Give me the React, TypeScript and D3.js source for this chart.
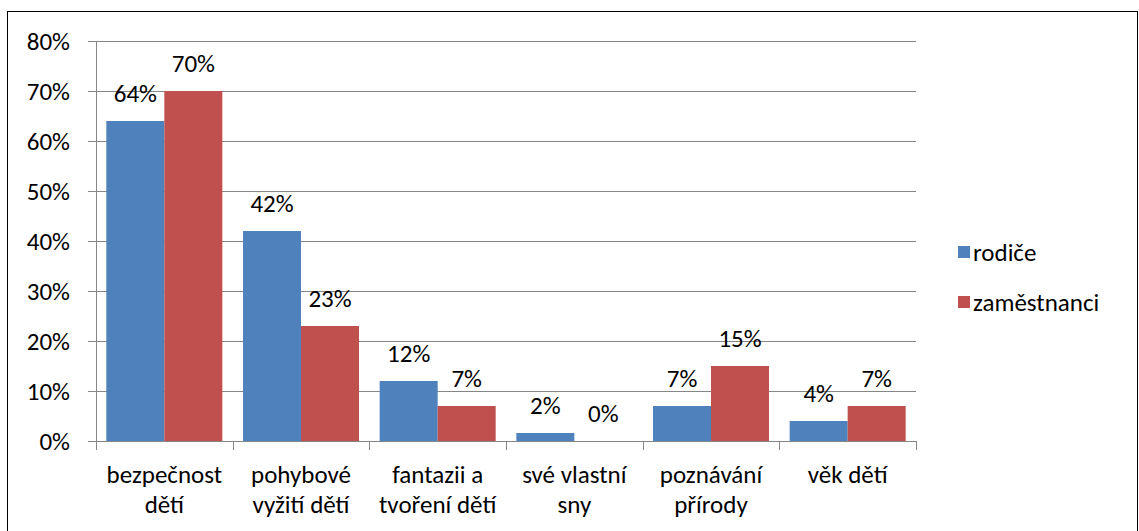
import React, { useEffect, useRef } from 'react';
import * as d3 from 'd3';

// Data
const categories = [
  ['bezpečnost', 'dětí'],
  ['pohybové', 'vyžití dětí'],
  ['fantazii a', 'tvoření dětí'],
  ['své vlastní', 'sny'],
  ['poznávání', 'přírody'],
  ['věk dětí'],
];
const seriesNames = ['rodiče', 'zaměstnanci'];
const rodice = [64, 42, 12, 1.6, 7, 4];
const zamestnanci = [70, 23, 7, 0, 15, 7];
const yTicks = [0, 10, 20, 30, 40, 50, 60, 70, 80];
const colors = ['#4F81BD', '#C0504D'];

const App = () => {
  const ref = useRef<SVGSVGElement>(null);

  useEffect(() => {
    const svg = d3.select(ref.current);
    svg.selectAll('*').remove();
    const font = 'Carlito, Calibri, Lato, sans-serif';
    const fs = 25;

    // outer frame
    svg
      .append('rect')
      .attr('x', 7.5)
      .attr('y', 11.5)
      .attr('width', 1130)
      .attr('height', 530)
      .attr('fill', 'white')
      .attr('stroke', 'black')
      .attr('stroke-width', 1);

    const left = 96;
    const right = 916;
    const top = 41;
    const bottom = 441;

    const x = d3
      .scaleBand<number>()
      .domain(d3.range(categories.length))
      .range([left, right]);
    const inner = d3
      .scaleBand<number>()
      .domain([0, 1])
      .range([0, x.bandwidth()])
      .paddingOuter(0.178);
    const y = d3.scaleLinear().domain([0, 80]).range([bottom, top]);

    // gridlines
    svg
      .append('g')
      .selectAll('line')
      .data(yTicks)
      .join('line')
      .attr('x1', left - 8)
      .attr('x2', right)
      .attr('y1', (d) => Math.round(y(d)) + 0.5)
      .attr('y2', (d) => Math.round(y(d)) + 0.5)
      .attr('stroke', '#868686')
      .attr('stroke-width', 1);

    // y labels
    svg
      .append('g')
      .selectAll('text')
      .data(yTicks)
      .join('text')
      .attr('x', 70)
      .attr('y', (d) => y(d))
      .attr('dy', '0.35em')
      .attr('text-anchor', 'end')
      .attr('font-family', font)
      .attr('font-size', fs)
      .attr('fill', '#000')
      .text((d) => `${d}%`);

    // y axis line
    svg
      .append('line')
      .attr('x1', left + 0.5)
      .attr('x2', left + 0.5)
      .attr('y1', top)
      .attr('y2', bottom)
      .attr('stroke', '#868686');

    // x category ticks
    svg
      .append('g')
      .selectAll('line')
      .data(d3.range(categories.length + 1))
      .join('line')
      .attr('x1', (i) => Math.round(left + i * x.step()) + 0.5)
      .attr('x2', (i) => Math.round(left + i * x.step()) + 0.5)
      .attr('y1', bottom)
      .attr('y2', bottom + 9)
      .attr('stroke', '#868686');

    const series = [rodice, zamestnanci];
    series.forEach((vals, s) => {
      const g = svg.append('g');
      g.selectAll('rect')
        .data(vals)
        .join('rect')
        .attr('x', (_, i) => (x(i) as number) + (inner(s) as number))
        .attr('width', inner.bandwidth())
        .attr('y', (d) => y(d))
        .attr('height', (d) => bottom - y(d))
        .attr('fill', colors[s]);
      g.selectAll('text')
        .data(vals)
        .join('text')
        .attr('x', (_, i) => (x(i) as number) + (inner(s) as number) + inner.bandwidth() / 2)
        .attr('y', (d) => y(d) - 19)
        .attr('text-anchor', 'middle')
        .attr('font-family', font)
        .attr('font-size', fs)
        .attr('fill', '#000')
        .text((d) => `${Math.round(d)}%`);
    });

    // category labels
    const cat = svg
      .append('g')
      .selectAll('text')
      .data(categories)
      .join('text')
      .attr('x', (_, i) => (x(i) as number) + x.bandwidth() / 2)
      .attr('y', 483)
      .attr('text-anchor', 'middle')
      .attr('font-family', font)
      .attr('font-size', fs)
      .attr('fill', '#000');
    cat
      .selectAll('tspan')
      .data((d) => d)
      .join('tspan')
      .attr('x', function () {
        return (this.parentNode as SVGTextElement).getAttribute('x');
      })
      .attr('dy', (_, j) => (j === 0 ? 0 : 30))
      .text((d) => d);

    // legend
    const legendY = [252, 302];
    seriesNames.forEach((name, s) => {
      svg
        .append('rect')
        .attr('x', 958)
        .attr('y', legendY[s] - 6)
        .attr('width', 12)
        .attr('height', 12)
        .attr('fill', colors[s]);
      svg
        .append('text')
        .attr('x', 973)
        .attr('y', legendY[s])
        .attr('dy', '0.35em')
        .attr('font-family', font)
        .attr('font-size', fs)
        .attr('fill', '#000')
        .text(name);
    });
  }, []);

  return (
    <svg
      ref={ref}
      width={1139}
      height={531}
      style={{ position: 'absolute', left: 0, top: 0, display: 'block' }}
    />
  );
};

export default App;
